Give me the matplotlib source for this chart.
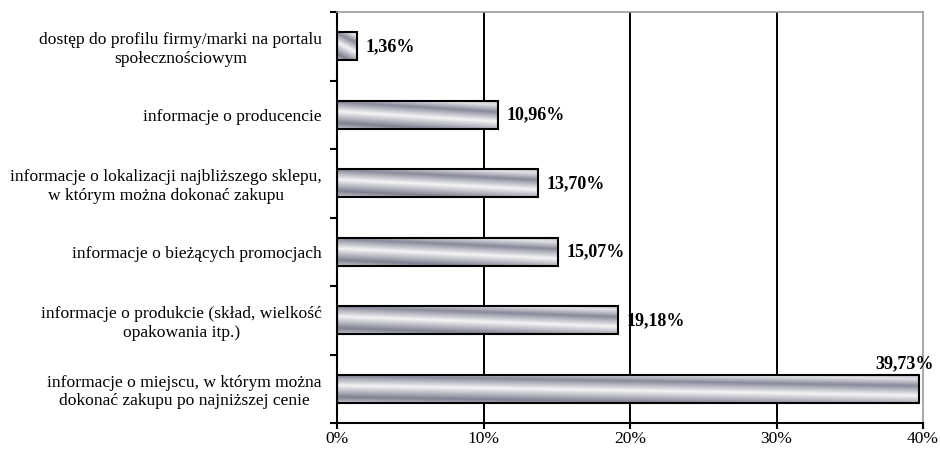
import matplotlib
matplotlib.use("Agg")
import matplotlib.pyplot as plt
from matplotlib.colors import LinearSegmentedColormap
import numpy as np

categories = [
    "dostęp do profilu firmy/marki na portalu\nspołecznościowym",
    "informacje o producencie",
    "informacje o lokalizacji najbliższego sklepu,\nw którym można dokonać zakupu",
    "informacje o bieżących promocjach",
    "informacje o produkcie (skład, wielkość\nopakowania itp.)",
    "informacje o miejscu, w którym można\ndokonać zakupu po najniższej cenie",
]
values = [1.36, 10.96, 13.70, 15.07, 19.18, 39.73]
value_labels = ["1,36%", "10,96%", "13,70%", "15,07%", "19,18%", "39,73%"]
x_ticks = [0, 10, 20, 30, 40]
x_tick_labels = ["0%", "10%", "20%", "30%", "40%"]

plt.rcParams['font.family'] = ['Liberation Serif', 'DejaVu Serif']

metal = LinearSegmentedColormap.from_list("metal", [
    (0.0, "#c4c5cd"), (0.15, "#7f8190"), (0.45, "#f5f5f7"),
    (0.7, "#888a99"), (0.88, "#e2e2e7"), (1.0, "#b4b6c0")])

fig = plt.figure(figsize=(9.4, 4.49), dpi=100)
ax = fig.add_axes([337 / 940, 26 / 449, 586 / 940, 411 / 449])

n = len(categories)
ypos = np.arange(n)[::-1]
bar_h = 0.41

# vertical grid lines behind the bars
for xv in x_ticks[1:-1]:
    ax.axvline(xv, color="black", lw=1.4, zorder=1)

# metallic texture, diagonal in bar-local coords
u, v = np.meshgrid(np.linspace(0, 1, 300), np.linspace(0, 1, 80))
tex = (0.85 * v + 0.3 * u) / 1.15

bars = ax.barh(ypos, values, height=bar_h, color="none",
               edgecolor="black", linewidth=1.5, zorder=3)
for b in bars:
    x0, y0 = b.get_x(), b.get_y()
    im = ax.imshow(tex, cmap=metal, aspect="auto", origin="lower",
                   extent=(x0, x0 + b.get_width(), y0, y0 + b.get_height()),
                   zorder=2, interpolation="bilinear", vmin=0, vmax=1)
    im.set_clip_path(b)

for i, (val, lab) in enumerate(zip(values, value_labels)):
    if i == n - 1:
        ax.text(val + 1.0, ypos[i] + bar_h / 2 + 0.03, lab, ha="right", va="bottom",
                fontsize=13, fontweight="bold", clip_on=False)
    else:
        ax.text(val + 0.6, ypos[i], lab, ha="left", va="center",
                fontsize=13, fontweight="bold")

ax.set_xlim(0, 40)
ax.set_ylim(-0.5, n - 0.5)
ax.set_xticks(x_ticks)
ax.set_xticklabels(x_tick_labels, fontsize=12.5)
ax.set_yticks(ypos)
ax.set_yticklabels(categories, fontsize=12.6, multialignment="center")
ax.tick_params(axis="y", length=0, pad=11)
ax.set_yticks(np.arange(-0.5, n, 1.0), minor=True)
ax.tick_params(axis="y", which="minor", length=5, width=1.5, direction="out")
ax.tick_params(axis="x", length=4, width=1.5, direction="out", pad=2)

ax.spines["left"].set_linewidth(1.5)
ax.spines["bottom"].set_linewidth(1.5)
ax.spines["top"].set_color("#9a9a9a")
ax.spines["right"].set_color("#9a9a9a")
ax.spines["top"].set_linewidth(1.2)
ax.spines["right"].set_linewidth(1.2)

fig.savefig("out.png", dpi=100)
